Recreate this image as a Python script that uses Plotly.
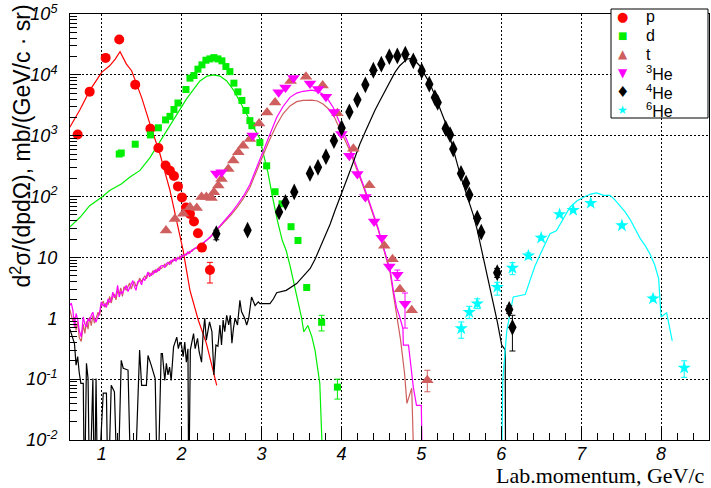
import plotly.graph_objects as go

# ---------------- measured spectra ----------------
p_x = [0.70, 0.85, 1.05, 1.22, 1.42, 1.61, 1.71, 1.80, 1.855, 1.905, 1.955, 2.005, 2.055, 2.105, 2.155, 2.205, 2.255, 2.355]
p_y = [1050, 5300, 19000, 38000, 6900, 1300, 630, 325, 265, 218, 147, 97, 66, 52, 39, 25, 14.5, 6.2]
p_eu = [0] * 17 + [2.1]
p_ed = [0] * 17 + [2.4]

d_x = [1.22, 1.245, 1.42, 1.61, 1.71, 1.80, 1.855, 1.905, 1.955, 2.055, 2.105, 2.155, 2.205, 2.255, 2.305,
       2.355, 2.405, 2.455, 2.505, 2.555, 2.605, 2.655, 2.705, 2.755, 2.805, 2.855, 2.88, 2.98, 3.065,
       3.17, 3.257, 3.37, 3.457, 3.566, 3.753, 3.95]
d_y = [500, 520, 725, 1030, 1350, 1820, 2080, 2700, 3450, 5740, 8830, 9750, 12400, 14600, 17400,
       18300, 19200, 18300, 17000, 13700, 11300, 7300, 5260, 3800, 2600, 1770, 1460, 770, 320,
       120, 76, 32, 19, 3.2, 0.86, 0.074]
d_eu = [0] * 34 + [0.26, 0.026]
d_ed = [0] * 34 + [0.24, 0.027]

t_x = [1.805, 1.917, 2.02, 2.105, 2.19, 2.25, 2.31, 2.375, 2.405, 2.46, 2.50, 2.585, 2.647, 2.71, 2.77,
       2.856, 2.97, 3.07, 3.17, 3.365, 3.557, 3.766, 3.95, 4.15, 4.35, 4.537, 4.64, 4.733, 4.88, 5.075]
t_y = [27.7, 43, 52, 67, 65, 98, 98, 95, 118, 152, 195, 285, 390, 535, 686,
       883, 1580, 2400, 3520, 7900, 9270, 6680, 2340, 612, 153, 15.5, 9.3, 3.0, 1.35, 0.096]
t_eu = [0] * 29 + [0.044]
t_ed = [0] * 29 + [0.034]

he3_x = [2.435, 2.50, 2.89, 3.215, 3.30, 3.40, 3.607, 3.71, 3.807, 3.907, 4.00, 4.10, 4.20, 4.30,
         4.41, 4.505, 4.60, 4.70, 4.796]
he3_y = [240, 252, 1010, 5200, 6200, 8840, 7200, 5830, 4360, 2460, 1070, 470, 234, 98,
         39, 21, 7.1, 5.2, 1.74]
he3_eu = [0] * 17 + [1.0, 0.86]
he3_ed = [0] * 17 + [1.0, 1.05]

he4_x = [2.435, 2.826, 3.22, 3.30, 3.41, 3.607, 3.707, 3.807, 3.907, 4.003, 4.10, 4.20, 4.30, 4.40,
         4.50, 4.60, 4.70, 4.80, 4.90, 5.005, 5.10, 5.17, 5.205, 5.305, 5.36, 5.40, 5.497, 5.56,
         5.60, 5.70, 5.75, 5.95, 6.10, 6.14]
he4_y = [24.5, 28, 56, 80, 119, 240, 302, 453, 830, 1340, 2460, 3890, 6850, 11900,
         14960, 19900, 20500, 21800, 17000, 11600, 7030, 4240, 3520, 1320, 1040, 605, 240, 166,
         107, 44, 26, 5.6, 1.4, 0.71]
he4_eu = [3.5] + [0] * 30 + [1.0, 0.2, 0.41]
he4_ed = [5.0] + [0] * 30 + [0.9, 0.2, 0.42]

he6_x = [5.50, 5.60, 5.70, 5.95, 6.14, 6.34, 6.50, 6.73, 6.90, 7.12, 7.51, 7.90, 8.29]
he6_y = [0.68, 1.26, 1.74, 3.26, 6.7, 10.7, 21, 51, 60, 78, 33.5, 2.1, 0.153]
he6_eu = [0.19, 0.31, 0.35, 0.64, 1.5, 1.2, 1.5, 2.5, 3.0, 3.5, 2.0, 0.2, 0.047]
he6_ed = [0.21, 0.27, 0.30, 0.86, 1.5, 1.2, 1.5, 2.5, 3.0, 3.5, 2.0, 0.2, 0.046]

# ---------------- model curves ----------------
p_cx = [0.60, 0.73, 0.85, 1.00, 1.10, 1.17, 1.23, 1.27, 1.31, 1.375, 1.417, 1.50, 1.605, 1.73, 1.855,
        1.94, 2.00, 2.02, 2.105, 2.21, 2.31, 2.40, 2.44]
p_cy = [1370, 2690, 5500, 11000, 14100, 18200, 24000, 19100, 15000, 11700, 8500, 4270, 1550, 500, 126,
        40.7, 16.8, 12.9, 2.88, 0.93, 0.39, 0.123, 0.079]

d_cx = [0.60, 0.73, 0.85, 1.00, 1.10, 1.25, 1.355, 1.48, 1.605, 1.71, 1.81, 1.90, 1.98, 2.06, 2.15,
        2.23, 2.32, 2.40, 2.48, 2.565, 2.65, 2.73, 2.80, 2.88, 2.98, 3.02, 3.08, 3.13, 3.20, 3.26,
        3.31, 3.36, 3.40, 3.46, 3.50, 3.53, 3.58, 3.63, 3.67, 3.73, 3.77]
d_cy = [31.6, 45.7, 70.8, 97.7, 126, 162, 209, 269, 437, 724, 1200, 1862, 2750, 3981, 5750,
        7943, 9550, 10000, 9550, 7943, 5623, 3715, 2455, 1549, 891, 525, 251, 112, 39.8, 19.1,
        12.9, 7.08, 4.17, 1.91, 1.05, 0.60, 0.76, 0.50, 0.30, 0.085, 0.003]

t_cx = [0.60, 0.62, 0.64, 0.66, 0.68, 0.70, 0.72, 0.745, 0.77, 0.79, 0.81, 0.83, 0.85, 0.87, 0.89,
        0.91, 0.93, 0.955, 0.975, 0.995, 1.02, 1.04, 1.06, 1.08, 1.10, 1.12, 1.14, 1.16, 1.18, 1.20,
        1.22, 1.24, 1.26, 1.28, 1.31, 1.33, 1.35, 1.37, 1.39, 1.41, 1.43, 1.45, 1.475, 1.50, 1.52,
        1.54, 1.56, 1.58, 1.60, 1.62, 1.64, 1.66, 1.68, 1.70, 1.72, 1.74, 1.77, 1.79, 1.81, 1.83,
        1.85, 1.87, 1.89, 1.91, 1.93, 1.955, 1.98, 2.00, 2.02, 2.04, 2.06, 2.08, 2.10, 2.13, 2.16,
        2.19, 2.22, 2.25, 2.28, 2.31, 2.36, 2.42, 2.48, 2.55, 2.62, 2.70, 2.78, 2.855, 2.93, 3.02,
        3.10, 3.19, 3.27, 3.357, 3.44, 3.52, 3.63, 3.70, 3.77, 3.84, 3.90, 3.96, 4.02, 4.09, 4.15,
        4.21, 4.27, 4.33, 4.40, 4.46, 4.52, 4.56, 4.61, 4.65, 4.69, 4.74, 4.79, 4.82, 4.88, 4.92]
t_cy = [1.41, 1.12, 0.891, 1.05, 0.631, 0.891, 0.479, 0.417, 0.794, 0.562, 0.891, 0.661, 1.05, 0.759, 1.12,
        0.832, 1.05, 1.26, 1.12, 1.66, 1.91, 1.51, 1.82, 1.66, 2.29, 1.78, 2.29, 2.51, 2.0, 2.88,
        2.51, 3.16, 2.29, 3.31, 2.88, 3.31, 3.80, 3.02, 3.63, 3.98, 3.31, 3.63, 4.57, 3.98, 4.37,
        5.01, 4.47, 5.25, 5.50, 5.01, 6.03, 5.50, 6.31, 5.89, 6.92, 6.46, 7.08, 7.76, 7.24, 7.94,
        8.51, 7.94, 9.12, 8.91, 9.77, 9.33, 10.5, 10.0, 11.2, 10.7, 11.7, 11.5, 12.6, 12.6, 14.1,
        14.1, 15.5, 16.2, 17.4, 18.6, 21.4, 26.3, 31.6, 39.8, 50.1, 67.6, 95.5, 141, 251, 479,
        851, 1514, 2291, 3090, 3631, 3802, 3846, 3715, 3311, 2754, 2188, 1514, 1000, 631, 398,
        251, 151, 91.2, 50.1, 28.8, 15.1, 10.0, 5.62, 2.51, 1.20, 0.447, 0.126, 0.040, 0.071, 0.001]

he3_cx = [0.60, 0.62, 0.64, 0.66, 0.68, 0.70, 0.72, 0.745, 0.77, 0.79, 0.81, 0.83, 0.85, 0.87, 0.89,
          0.91, 0.93, 0.955, 0.975, 0.995, 1.02, 1.04, 1.06, 1.08, 1.10, 1.12, 1.14, 1.16, 1.18, 1.20,
          1.22, 1.24, 1.26, 1.28, 1.31, 1.33, 1.35, 1.37, 1.39, 1.41, 1.43, 1.45, 1.475, 1.50, 1.52,
          1.54, 1.56, 1.58, 1.60, 1.62, 1.64, 1.66, 1.68, 1.70, 1.72, 1.74, 1.77, 1.79, 1.81, 1.83,
          1.85, 1.87, 1.89, 1.91, 1.93, 1.955, 1.98, 2.00, 2.02, 2.04, 2.06, 2.08, 2.10, 2.13, 2.16,
          2.19, 2.22, 2.25, 2.28, 2.31, 2.36, 2.42, 2.48, 2.55, 2.62, 2.70, 2.78, 2.855, 2.93, 3.02,
          3.10, 3.19, 3.27, 3.357, 3.44, 3.52, 3.63, 3.70, 3.77, 3.84, 3.90, 3.96, 4.02, 4.09, 4.15,
          4.21, 4.27, 4.33, 4.40, 4.46, 4.52, 4.56, 4.61, 4.65, 4.69, 4.73, 4.77, 4.775, 4.84, 4.90,
          4.94, 5.00, 5.02]
he3_cy = [1.62, 1.78, 1.35, 0.724, 1.20, 0.955, 0.631, 0.490, 1.05, 0.794, 0.724, 1.0, 0.891, 1.12, 1.26,
          0.955, 0.871, 1.12, 1.26, 1.86, 1.58, 1.74, 1.51, 2.09, 1.82, 2.0, 2.69, 2.19, 2.40, 3.47,
          2.24, 2.75, 2.57, 2.95, 3.47, 2.75, 3.16, 3.55, 4.17, 3.31, 2.88, 3.98, 4.17, 3.55, 4.57,
          4.17, 5.01, 5.75, 4.79, 5.50, 5.25, 6.17, 5.62, 6.46, 6.03, 7.24, 7.41, 6.76, 7.94, 8.32,
          7.59, 8.91, 8.51, 9.55, 8.71, 10.0, 9.33, 10.7, 10.5, 11.2, 11.0, 12.3, 11.7, 13.2, 13.8,
          14.8, 15.1, 16.6, 17.8, 19.1, 21.9, 26.9, 33.1, 41.7, 53.7, 74.1, 105, 158, 282, 562,
          1047, 1995, 3020, 4266, 5012, 5370, 5623, 5370, 4786, 3802, 2884, 1905, 1202, 724, 437,
          269, 162, 97.7, 52.5, 30.2, 15.8, 10.5, 6.31, 2.88, 1.51, 1.05, 0.676, 0.363, 0.363, 0.074,
          0.037, 0.037, 0.001]

he4_cx = [0.60, 0.63, 0.66, 0.68, 0.70, 0.72, 0.74, 0.77, 0.785, 0.81, 0.83, 0.85, 0.89, 0.91, 0.93,
          0.95, 1.02, 1.06, 1.08, 1.12, 1.16, 1.20, 1.245, 1.27, 1.33, 1.37, 1.41, 1.475, 1.50, 1.56,
          1.58, 1.62, 1.67, 1.70, 1.745, 1.76, 1.79, 1.81, 1.83, 1.85, 1.87, 1.90, 1.94, 1.96, 1.98,
          2.00, 2.02, 2.04, 2.06, 2.08, 2.09, 2.11, 2.15, 2.17, 2.20, 2.22, 2.25, 2.27, 2.29, 2.31,
          2.35, 2.38, 2.405, 2.43, 2.455, 2.48, 2.50, 2.52, 2.54, 2.565, 2.59, 2.61, 2.63, 2.65, 2.67,
          2.70, 2.73, 2.75, 2.79, 2.815, 2.84, 2.876, 2.92, 2.96, 2.98, 3.106, 3.15, 3.19, 3.31, 3.44,
          3.53, 3.61, 3.67, 3.73, 3.80, 3.86, 3.92, 3.98, 4.05, 4.11, 4.17, 4.23, 4.30, 4.36, 4.42,
          4.48, 4.55, 4.61, 4.67, 4.73, 4.78, 4.82, 4.88, 4.93, 4.98, 5.05, 5.11, 5.17, 5.23, 5.30,
          5.36, 5.42, 5.485, 5.55, 5.61, 5.65, 5.70, 5.75, 5.80, 5.85, 5.90, 5.95, 6.006, 6.05, 6.055]
he4_cy = [0.676, 0.50, 0.385, 0.17, 0.234, 0.126, 0.085, 0.085, 0.001, 0.182, 0.102, 0.001, 0.102, 0.001, 0.102,
          0.001, 0.059, 0.059, 0.001, 0.079, 0.062, 0.001, 0.204, 0.151, 0.141, 0.001, 0.001, 0.302, 0.079, 0.079,
          0.245, 0.17, 0.102, 0.001, 0.263, 0.263, 0.095, 0.182, 0.117, 0.158, 0.095, 0.339, 0.49, 0.316, 0.407,
          0.355, 0.234, 0.407, 0.19, 0.316, 0.001, 0.302, 0.562, 0.316, 0.468, 0.282, 0.19, 0.562, 1.0, 0.437,
          0.871, 0.603, 0.117, 0.363, 0.347, 0.776, 0.363, 0.933, 0.603, 1.12, 0.776, 1.12, 0.389, 0.692, 1.0,
          0.776, 1.97, 1.29, 1.0, 0.776, 1.0, 2.24, 1.62, 1.86, 1.74, 1.74, 2.09, 2.63, 2.88, 3.72,
          5.0, 6.6, 9.3, 14.1, 22.9, 35.5, 58.9, 97.7, 166, 269, 447, 724, 1175, 1778, 2630,
          3715, 5623, 7943, 10965, 14125, 16596, 18197, 18621, 16596, 14125, 10000, 7079, 4571, 2884, 1660,
          933, 479, 234, 126, 75.9, 50.1, 28.2, 14.1, 7.08, 3.80, 1.97, 0.891, 0.363, 0.302, 0.001]

he6_cx = [6.00, 6.02, 6.07, 6.15, 6.30, 6.36, 6.42, 6.48, 6.55, 6.61, 6.69, 6.78, 6.86, 6.95, 7.03,
          7.12, 7.195, 7.28, 7.36, 7.42, 7.49, 7.55, 7.61, 7.68, 7.74, 7.80, 7.86, 7.92, 7.97, 8.00,
          8.07, 8.14]
he6_cy = [0.001, 0.10, 0.631, 2.24, 2.45, 4.17, 7.08, 10.7, 16.6, 24.5, 27.5, 44.7, 66.8, 85.1, 97.7,
          110, 115, 105, 105, 89.1, 70.8, 56.2, 42.7, 28.8, 20.4, 15.8, 11.5, 7.59, 4.47, 1.05,
          1.23, 0.427]

y_tickvals = [1e-2, 1e-1, 1, 10, 1e2, 1e3, 1e4, 1e5]
y_ticktext = ["10<sup>-2</sup>", "10<sup>-1</sup>", "1", "10",
              "10<sup>2</sup>", "10<sup>3</sup>", "10<sup>4</sup>", "10<sup>5</sup>"]

species = ["p", "d", "t", "<sup>3</sup>He", "<sup>4</sup>He", "<sup>6</sup>He"]
RED, GREEN, TRI, MAG, BLK, CYAN = "#ff0000", "#00ee00", "#cf5e5e", "#ff00ff", "#000000", "#00ffff"

fig = go.Figure()

# model curves first, markers on top
for cx, cy, col in [(p_cx, p_cy, RED), (d_cx, d_cy, GREEN), (t_cx, t_cy, TRI),
                    (he3_cx, he3_cy, MAG), (he4_cx, he4_cy, BLK), (he6_cx, he6_cy, CYAN)]:
    fig.add_trace(go.Scatter(x=cx, y=cy, mode="lines", line=dict(color=col, width=1.2),
                             showlegend=False, hoverinfo="skip"))

markers = [
    (p_x, p_y, p_eu, p_ed, RED, "circle", 10),
    (d_x, d_y, d_eu, d_ed, GREEN, "square", 7),
    (t_x, t_y, t_eu, t_ed, TRI, "triangle-up", 11),
    (he3_x, he3_y, he3_eu, he3_ed, MAG, "triangle-down", 11),
    (he4_x, he4_y, he4_eu, he4_ed, BLK, "diamond-tall", 12),
    (he6_x, he6_y, he6_eu, he6_ed, CYAN, "star", 10),
]
for (mx, my, eu, ed, col, sym, sz), name in zip(markers, species):
    fig.add_trace(go.Scatter(
        x=mx, y=my, mode="markers", name=name, showlegend=False,
        marker=dict(color=col, symbol=sym, size=sz, line=dict(width=0)),
        error_y=dict(type="data", symmetric=False, array=eu, arrayminus=ed,
                     color=col, thickness=1, width=3),
    ))

# plot area in pixels: x 70..709, y 14..440
L, R, T, B = 70, 709, 14, 440


def px(xp):
    return (xp - L) / (R - L)


def py(yp):
    return (B - yp) / (B - T)


tick_font = dict(family="Liberation Sans", size=18, color="black", style="italic")

fig.update_layout(
    width=711, height=488,
    margin=dict(l=L, r=711 - R, t=T, b=488 - B),
    paper_bgcolor="white", plot_bgcolor="white",
    showlegend=False,
    xaxis=dict(
        range=[0.604, 8.60], dtick=1, tick0=0,
        showgrid=True, gridcolor="black", gridwidth=1, griddash="2px,2px",
        zeroline=False, showline=True, linecolor="black", linewidth=1, mirror=True,
        ticks="inside", ticklen=14, tickwidth=1, tickcolor="black",
        tickfont=tick_font, ticklabelstandoff=-3,
        minor=dict(dtick=0.2, tick0=0, ticks="inside", ticklen=7, tickcolor="black", showgrid=False),
    ),
    yaxis=dict(
        type="log", range=[-2, 5],
        tickmode="array", tickvals=y_tickvals, ticktext=y_ticktext,
        showgrid=True, gridcolor="black", gridwidth=1, griddash="2px,2px",
        zeroline=False, showline=True, linecolor="black", linewidth=1, mirror=True,
        ticks="inside", ticklen=11, tickwidth=1, tickcolor="black",
        tickfont=tick_font, ticklabelstandoff=8,
        minor=dict(tickmode="array",
                   tickvals=[m * 10.0 ** e for e in range(-2, 5) for m in range(2, 10)],
                   ticks="inside", ticklen=7, tickcolor="black", showgrid=False),
    ),
)

annotations = [
    dict(text="d<sup>2</sup>σ/(dpdΩ), mb/(GeV/c · sr)", textangle=-90,
         xref="paper", yref="paper", x=px(21), y=py(3), xanchor="center", yanchor="top",
         showarrow=False, font=dict(family="Liberation Sans", size=23, color="black")),
    dict(text="Lab.momentum, GeV/c", xref="paper", yref="paper", x=px(707), y=py(476),
         xanchor="right", yanchor="middle", showarrow=False,
         font=dict(family="Liberation Serif", size=22, color="black")),
]

# legend box
fig.add_shape(type="rect", xref="paper", yref="paper", x0=px(611), x1=px(708), y0=py(118), y1=py(9),
              line=dict(color="black", width=1), fillcolor="white", layer="above")
glyphs = [("●", RED, 13), ("■", GREEN, 10), ("▲", TRI, 12), ("▼", MAG, 12), ("♦", BLK, 15), ("★", CYAN, 12)]
for i, ((g, col, gs), name) in enumerate(zip(glyphs, species)):
    yrow = 16.7 + 18.7 * i
    annotations.append(dict(text=g, xref="paper", yref="paper", x=px(622.7), y=py(yrow),
                            xanchor="center", yanchor="middle", showarrow=False,
                            font=dict(family="DejaVu Sans", size=gs, color=col)))
    annotations.append(dict(text=name, xref="paper", yref="paper", x=px(644), y=py(yrow),
                            xanchor="left", yanchor="middle", showarrow=False,
                            font=dict(family="Liberation Sans", size=16, color="black")))
fig.update_layout(annotations=annotations)

fig.write_html("out.html")
